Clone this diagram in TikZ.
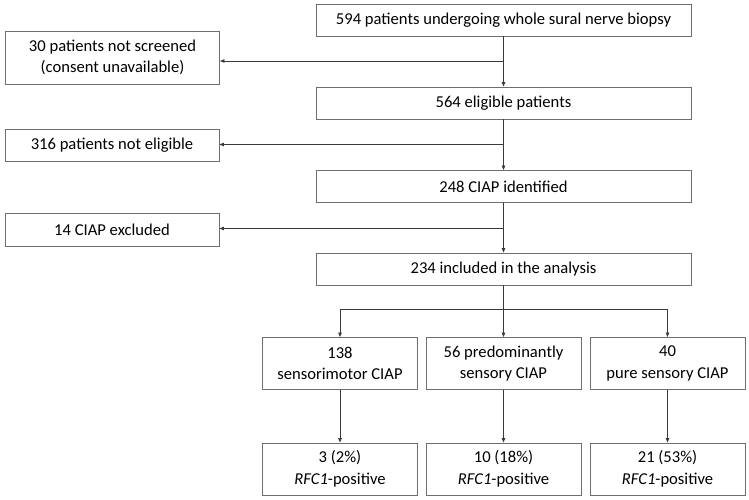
\documentclass[tikz,border=0pt]{standalone}
\usepackage{fontspec}
\setmainfont{Carlito}
\usetikzlibrary{arrows.meta}
\definecolor{boxgray}{HTML}{6E6E6E}
\definecolor{linegray}{HTML}{3A3A3A}
\begin{document}
\begin{tikzpicture}[x=1pt,y=-1pt,
  box/.style={draw=boxgray, line width=0.9pt, inner sep=0pt, align=center,
    font=\fontsize{16.6}{21.5}\selectfont, text=black},
  wide/.style={box, minimum width=375pt, minimum height=32pt},
  side/.style={box, minimum width=214pt},
  low/.style={box, minimum width=155pt, minimum height=52pt},
  conn/.style={draw=linegray, line width=0.8pt},
  arr/.style={conn, -{Triangle[length=4.5pt,width=3.5pt]}}]
\useasboundingbox (0,0) rectangle (749,500);

\node[wide] (a) at (503.5,20) {594 patients undergoing whole sural nerve biopsy};
\node[wide] (c) at (503.5,103) {564 eligible patients};
\node[wide] (e) at (503.5,186.5) {248 CIAP identified};
\node[wide] (g) at (503.5,269) {234 included in the analysis};

\node[side, minimum height=53pt] (b) at (112.5,57.5) {30 patients not screened\\(consent unavailable)};
\node[side, minimum height=32pt] (d) at (112,145) {316 patients not eligible};
\node[side, minimum height=33pt] (f) at (112,229.5) {14 CIAP excluded};

\node[low] (h1) at (340,363.5) {138\\sensorimotor CIAP};
\node[low] (h2) at (503.5,363.5) {56 predominantly\\sensory CIAP};
\node[low] (h3) at (667.5,363.5) {40\\pure sensory CIAP};

\node[low] (k1) at (340,469) {3 (2\%)\\\textit{RFC1}-positive};
\node[low] (k2) at (503.5,469) {10 (18\%)\\\textit{RFC1}-positive};
\node[low] (k3) at (667.5,469) {21 (53\%)\\\textit{RFC1}-positive};

\coordinate (j1) at (503.5,61);
\coordinate (j2) at (503.5,144.5);
\coordinate (j3) at (503.5,228.5);
\coordinate (s) at (503.5,309);

\draw[arr] (a.south) -- (c.north);
\draw[arr] (c.south) -- (e.north);
\draw[arr] (e.south) -- (g.north);
\draw[arr] (j1) -- (j1 -| b.east);
\draw[arr] (j2) -- (j2 -| d.east);
\draw[arr] (j3) -- (j3 -| f.east);

\draw[arr] (g.south) -- (h2.north);
\draw[arr] (s) -| (h1.north);
\draw[arr] (s) -| (h3.north);

\draw[arr] (h1.south) -- (k1.north);
\draw[arr] (h2.south) -- (k2.north);
\draw[arr] (h3.south) -- (k3.north);
\end{tikzpicture}
\end{document}
